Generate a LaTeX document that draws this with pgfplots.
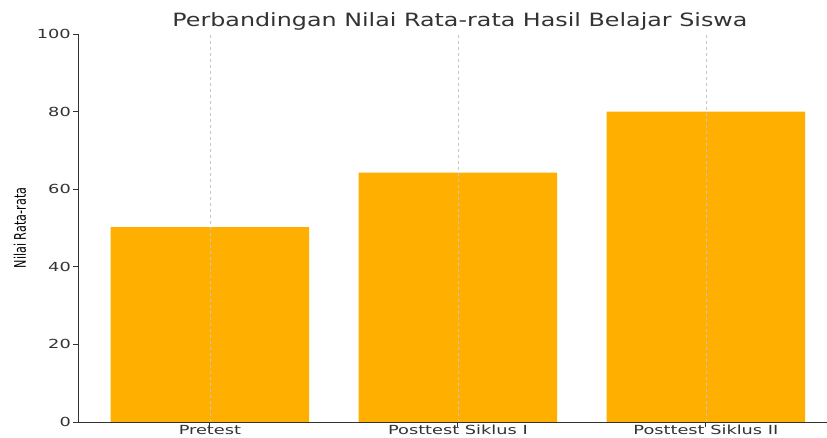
\documentclass[border=0pt]{standalone}
\usepackage{pgfplots}
\pgfplotsset{compat=1.18}
\usepackage{fontspec}
\setmainfont{DejaVu Sans}
\newfontfamily\tickfont{DejaVu Sans}[FakeStretch=1.42]
\newfontfamily\titlefont{DejaVu Sans}[FakeStretch=1.3]
\newfontfamily\labelfont{DejaVu Sans}[FakeStretch=0.7]
\definecolor{barc}{HTML}{FFAF00}
\definecolor{txt}{HTML}{333333}
\begin{document}
\begin{tikzpicture}
\begin{axis}[
  scale only axis,
  width=763.8pt, height=388pt,
  xmin=-0.532, xmax=2.548, ymin=0, ymax=100,
  axis x line*=bottom, axis y line*=left,
  axis line style={line width=0.9pt, color=txt},
  tick align=outside,
  major tick length=5pt,
  tick style={line width=0.9pt, color=txt},
  /pgf/number format/assume math mode=true,
  xtick={0,1,2},
  xticklabels={Pretest, Posttest Siklus I, Posttest Siklus II},
  ytick={0,20,40,60,80,100},
  xmajorgrids,
  grid style={dashed, color=black!22, line width=0.5pt},
  ybar, bar width=198.4pt,
  axis on top,
  tick label style={font=\tickfont\fontsize{12.5}{14}\selectfont, text=txt},
  xticklabel style={inner sep=0pt, yshift=2pt},
  yticklabel style={inner sep=2pt},
  title={Perbandingan Nilai Rata-rata Hasil Belajar Siswa},
  title style={font=\titlefont\fontsize{18.3}{20}\selectfont, text=txt, anchor=center, at={(rel axis cs:0.5,1)}, yshift=7pt},
  ylabel={Nilai Rata-rata},
  ylabel style={font=\labelfont\fontsize{16}{18}\selectfont, text=black, at={(rel axis cs:-0.0759,0.5)}, anchor=center},
]
\addplot[fill=barc, draw=none] coordinates {(0,50.2) (1,64.3) (2,80)};
\end{axis}
\pgfresetboundingbox
\useasboundingbox (-78pt,-15pt) rectangle (749pt,422pt);
\end{tikzpicture}
\end{document}
